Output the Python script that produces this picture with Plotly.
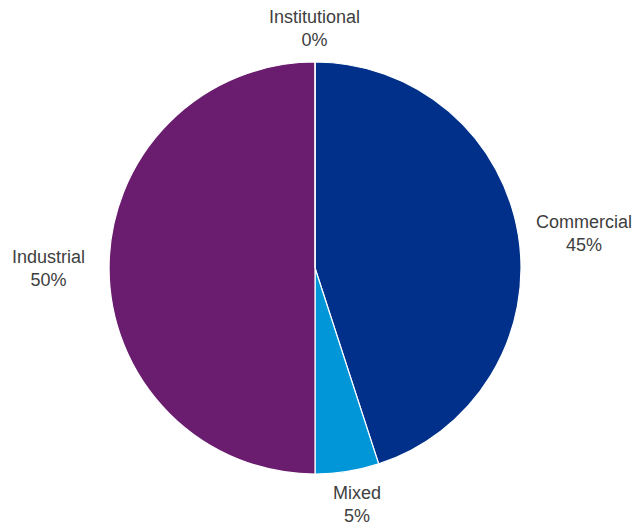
import math
import plotly.graph_objects as go

categories = ["Commercial", "Mixed", "Industrial", "Institutional"]
values = [45, 5, 50, 0]
colors = ["#00308A", "#0096D8", "#6A1C6E", "#A0A0A0"]

W, H = 639, 527
CX, CY, R = 315, 268, 206
GAP = 17
LEFT_EXTRA = 6
TB_GAP = 11
TEXT_COLOR = "#404040"
FONT_SIZE = 18

fig = go.Figure(go.Pie(
    labels=categories,
    values=values,
    sort=False,
    direction="clockwise",
    rotation=0,
    textinfo="none",
    hoverinfo="label+percent",
    marker=dict(colors=colors, line=dict(color="white", width=1.2)),
    domain=dict(x=[(CX - R) / W, (CX + R) / W], y=[0, 1]),
    showlegend=False,
))

total = sum(values)
cum = 0
annotations = []
top_margin = CY - R
plot_h = 2 * R
for cat, v in zip(categories, values):
    mid = (cum + v / 2) / total * 2 * math.pi
    cum += v
    s, c = math.sin(mid), math.cos(mid)
    if abs(c) > 0.3:
        gap = TB_GAP
    else:
        gap = GAP + (LEFT_EXTRA if s < -0.3 else 0)
    px = CX + (R + gap) * s
    py = CY - (R + gap) * c
    xa = "left" if s > 0.3 else ("right" if s < -0.3 else "center")
    ya = "bottom" if c > 0.3 else ("top" if c < -0.3 else "middle")
    annotations.append(dict(
        x=px / W, y=1 - (py - top_margin) / plot_h,
        xref="paper", yref="paper",
        text=f"{cat}<br>{round(v / total * 100)}%",
        showarrow=False, xanchor=xa, yanchor=ya,
        xshift=8 if 0.1 < s < 0.3 else 0,
        borderpad=0,
        font=dict(family="Liberation Sans, Arial, sans-serif", size=FONT_SIZE, color=TEXT_COLOR),
        align="center",
    ))

fig.update_layout(
    width=W, height=H,
    margin=dict(l=0, r=0, t=top_margin, b=H - CY - R, pad=0),
    paper_bgcolor="white",
    plot_bgcolor="white",
    annotations=annotations,
)

fig.write_html(
    "out.html",
    config={"displayModeBar": False},
    post_script="document.body.style.margin='0';document.body.style.overflow='hidden';",
)
